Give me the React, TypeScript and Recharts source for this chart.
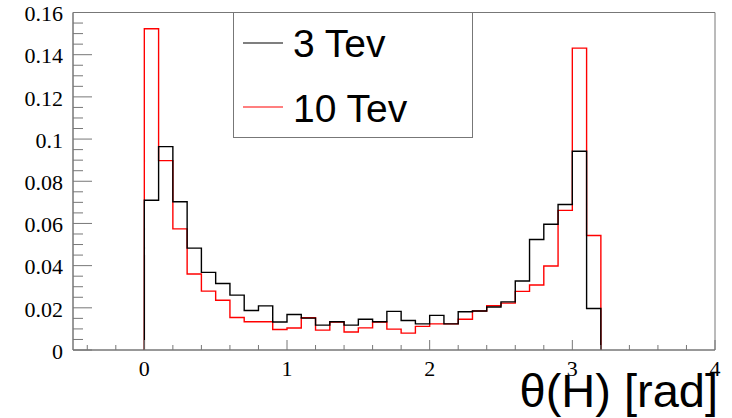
import React from 'react'
import { ComposedChart, Line, XAxis, YAxis, Legend, ReferenceArea, Label } from 'recharts'

// histogram bin edges, theta in rad
const binEdges = [
  0, 0.1, 0.2, 0.3, 0.4, 0.5, 0.6, 0.7, 0.8, 0.9, 1.0, 1.1, 1.2, 1.3, 1.4, 1.5, 1.6,
  1.7, 1.8, 1.9, 2.0, 2.1, 2.2, 2.3, 2.4, 2.5, 2.6, 2.7, 2.8, 2.9, 3.0, 3.1, 3.2,
]

const tev3 = [
  0.071, 0.0964, 0.0703, 0.0483, 0.0368, 0.0315, 0.026, 0.0187, 0.0209, 0.0133, 0.0168,
  0.0151, 0.0118, 0.0134, 0.0118, 0.0146, 0.0134, 0.0183, 0.014, 0.0124, 0.0164, 0.0124,
  0.0181, 0.0185, 0.0204, 0.0228, 0.0327, 0.0524, 0.0596, 0.069, 0.0942, 0.0197,
]

const tev10 = [
  0.1523, 0.0898, 0.0574, 0.036, 0.0279, 0.0236, 0.0154, 0.0134, 0.0134, 0.0097, 0.0104,
  0.0153, 0.0094, 0.0133, 0.0085, 0.0105, 0.0133, 0.0099, 0.008, 0.0112, 0.0124, 0.0124,
  0.0146, 0.0185, 0.021, 0.0222, 0.0278, 0.0308, 0.0398, 0.0662, 0.1431, 0.0543,
]

const seriesNames = ['3 Tev', '10 Tev']

const yMajorTicks = [0, 0.02, 0.04, 0.06, 0.08, 0.1, 0.12, 0.14, 0.16]
const yTickLabels = ['0', '0.02', '0.04', '0.06', '0.08', '0.1', '0.12', '0.14', '0.16']
const xMajorTicks = [0, 1, 2, 3, 4]
const xTickLabels = ['0', '1', '2', '3', '4']

const AXIS = '#777'

// step histogram: start at zero on the first edge, close back to zero on the last
const rows = [
  { x: binEdges[0], tev3: 0, tev10: 0 },
  ...tev3.map((v, i) => ({ x: binEdges[i], tev3: v, tev10: tev10[i] })),
  { x: binEdges[binEdges.length - 1], tev3: 0, tev10: 0 },
]

// minor ticks: 4 per major on y, every 0.2 on x
const yTicks: number[] = []
yMajorTicks.forEach((t, i) => {
  yTicks.push(t)
  if (i < yMajorTicks.length - 1) {
    for (let k = 1; k < 4; k++) yTicks.push(Math.round((t + k * 0.005) * 1000) / 1000)
  }
})
const xTicks: number[] = []
for (let i = 0; i <= 22; i++) xTicks.push(Math.round((-0.4 + i * 0.2) * 10) / 10)

const serif = '"Liberation Serif", "DejaVu Serif", serif'
const sans = '"Liberation Sans", Arial, sans-serif'

function YTick(props: any) {
  const { x, y, payload } = props
  const idx = yMajorTicks.findIndex((t) => Math.abs(t - payload.value) < 1e-9)
  const major = idx >= 0
  return (
    <g>
      <line x1={x} x2={x + (major ? 19 : 10)} y1={y} y2={y} stroke={AXIS} strokeWidth={1} />
      {major && (
        <text x={x - 10} y={y + 1} dy="0.35em" textAnchor="end" fontFamily={serif} fontSize={22} fill="#000">
          {yTickLabels[idx]}
        </text>
      )}
    </g>
  )
}

function XTick(props: any) {
  const { x, y, payload } = props
  const idx = xMajorTicks.findIndex((t) => Math.abs(t - payload.value) < 1e-9)
  const major = idx >= 0
  return (
    <g>
      <line x1={x} x2={x} y1={y} y2={y - (major ? 10 : 5)} stroke={AXIS} strokeWidth={1} />
      {major && (
        <text x={x} y={y + 26} textAnchor="middle" fontFamily={serif} fontSize={22} fill="#000">
          {xTickLabels[idx]}
        </text>
      )}
    </g>
  )
}

function AxisTitle(props: any) {
  const vb = props.viewBox
  return (
    <text x={vb.x + vb.width + 3} y={vb.y + 57} textAnchor="end" fontFamily={sans} fontSize={47} fill="#000">
      θ(H) [rad]
    </text>
  )
}

function HistLegend(props: any) {
  const items = [...(props.payload || [])].sort(
    (a: any, b: any) => seriesNames.indexOf(a.value) - seriesNames.indexOf(b.value)
  )
  return (
    <svg width={240} height={126}>
      <rect x={0.5} y={0.5} width={239} height={125} fill="#fff" stroke={AXIS} />
      {items.map((it: any, i: number) => (
        <g key={it.value}>
          <line x1={10} x2={50} y1={31 + i * 64} y2={31 + i * 64} stroke={it.color} strokeWidth={1.2} />
          <text x={60} y={45 + i * 65} fontFamily={sans} fontSize={39} fill="#000">
            {it.value}
          </text>
        </g>
      ))}
    </svg>
  )
}

export default function App() {
  return (
    <div style={{ position: 'absolute', left: 0, top: 0, background: '#fff' }}>
      <ComposedChart width={732} height={418} data={rows} margin={{ top: 12.5, right: 17, left: 0, bottom: 0 }}>
        <XAxis
          dataKey="x"
          type="number"
          domain={[-0.5, 4]}
          ticks={xTicks}
          interval={0}
          allowDataOverflow
          height={68}
          tickSize={0}
          tickMargin={0}
          tick={<XTick />}
          axisLine={{ stroke: AXIS }}
        >
          <Label content={<AxisTitle />} />
        </XAxis>
        <YAxis
          type="number"
          domain={[0, 0.16]}
          ticks={yTicks}
          interval={0}
          allowDataOverflow
          width={73}
          tickSize={0}
          tickMargin={0}
          tick={<YTick />}
          axisLine={{ stroke: AXIS }}
        />
        <ReferenceArea x1={-0.5} x2={4} y1={0} y2={0.16} fill="none" fillOpacity={0} stroke={AXIS} strokeWidth={1} />
        <Line
          dataKey="tev10"
          name="10 Tev"
          type="stepAfter"
          stroke="#ff0000"
          strokeWidth={1.4}
          dot={false}
          activeDot={false}
          isAnimationActive={false}
        />
        <Line
          dataKey="tev3"
          name="3 Tev"
          type="stepAfter"
          stroke="#000000"
          strokeWidth={1.4}
          dot={false}
          activeDot={false}
          isAnimationActive={false}
        />
        <Legend
          verticalAlign="middle"
          align="center"
          content={<HistLegend />}
          wrapperStyle={{ position: 'absolute', left: 233, top: 12, width: 240, height: 126 }}
        />
      </ComposedChart>
    </div>
  )
}
